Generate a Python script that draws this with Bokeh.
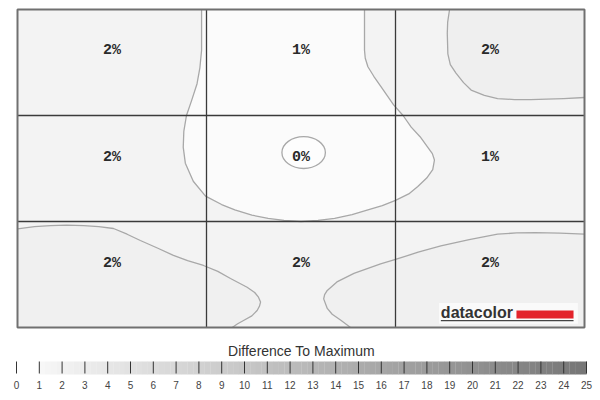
from bokeh.plotting import figure
from bokeh.models import Range1d
from bokeh.core.properties import value
from bokeh.embed import file_html
from bokeh.resources import INLINE
import numpy as np

# ---- data (cell units: x 0..3 left->right, y 0..3 top->bottom) ----
col_centers = [0.5, 1.5, 2.5]
row_label_y = [0.39, 1.40, 2.40]
cell_values = [[2, 1, 2],
               [2, 0, 1],
               [2, 2, 2]]
grid_lines = [1, 2]

# contour: U-shaped 1% boundary
u_x = [0.974, 0.974, 0.974, 0.965, 0.950, 0.921, 0.894, 0.880, 0.877, 0.888, 0.930, 0.995,
       1.080, 1.150, 1.240, 1.326, 1.410, 1.500, 1.590, 1.678, 1.770, 1.854, 1.930, 2.000,
       2.070, 2.118, 2.165, 2.197, 2.206, 2.195, 2.171, 2.130, 2.083, 2.040, 1.990, 1.924,
       1.885, 1.854, 1.840, 1.836, 1.836, 1.836]
u_y = [0.000, 0.200, 0.385, 0.550, 0.700, 0.860, 1.000, 1.150, 1.300, 1.450, 1.620, 1.760,
       1.840, 1.890, 1.940, 1.970, 1.990, 2.000, 1.990, 1.970, 1.935, 1.890, 1.850, 1.800,
       1.740, 1.670, 1.590, 1.510, 1.420, 1.360, 1.300, 1.200, 1.110, 1.000, 0.900, 0.730,
       0.630, 0.540, 0.460, 0.385, 0.160, 0.000]

# top-right 2% boundary
tr_x = [2.286, 2.276, 2.274, 2.277, 2.290, 2.320, 2.360, 2.400, 2.470, 2.540, 2.630, 2.716, 2.800, 2.890, 3.000]
tr_y = [0.000, 0.120, 0.226, 0.418, 0.520, 0.600, 0.690, 0.760, 0.810, 0.840, 0.850, 0.850, 0.845, 0.840, 0.830]

# bottom-left 2% boundary
bl_x = [0.000, 0.090, 0.175, 0.260, 0.350, 0.430, 0.508, 0.580, 0.650, 0.740, 0.825, 0.900, 0.984,
        1.060, 1.127, 1.215, 1.255, 1.275, 1.286, 1.280, 1.268, 1.240, 1.196, 1.165, 1.136]
bl_y = [2.069, 2.048, 2.038, 2.035, 2.038, 2.048, 2.066, 2.120, 2.179, 2.250, 2.320, 2.370, 2.415,
        2.470, 2.538, 2.620, 2.670, 2.714, 2.760, 2.800, 2.840, 2.890, 2.934, 2.965, 3.000]

# bottom-right 2% boundary
br_x = [1.762, 1.709, 1.665, 1.639, 1.620, 1.625, 1.639, 1.690, 1.780, 1.921, 1.996, 2.120,
        2.240, 2.390, 2.540, 2.640, 2.740, 2.870, 3.000]
br_y = [3.000, 2.930, 2.875, 2.820, 2.730, 2.690, 2.650, 2.570, 2.490, 2.400, 2.360, 2.290,
        2.230, 2.170, 2.120, 2.108, 2.105, 2.110, 2.120]

# small 0% ring
ring_x = 1.514
ring_y = 1.35
ring_w = 0.23
ring_h = 0.30

# colour bar
scale_ticks = list(range(0, 26))
scale_labels = [str(t) for t in scale_ticks]
scale_title = "Difference To Maximum"
scale_start = 1
scale_end = 25

# ---- layout (pixels on the canvas) ----
W, H = 600, 398
map_left, map_right, map_top, map_bottom = 17, 584, 9, 327
bar_left_px, bar_right_px = 16, 586   # positions of 0 and 25 on the scale

cw = (map_right - map_left) / 3.0
ch = (map_bottom - map_top) / 3.0
x_cells = Range1d(-map_left / cw, 3 + (W - map_right) / cw)
y_cells = Range1d(3 + (H - map_bottom) / ch, -map_top / ch)
su = (bar_right_px - bar_left_px) / 25.0
x_scale = Range1d(-bar_left_px / su, 25 + (W - bar_right_px) / su)
y_px = Range1d(H, 0)

p = figure(width=W, height=H, x_range=x_cells, y_range=y_cells,
           output_backend="svg", toolbar_location=None,
           x_axis_location=None, y_axis_location=None,
           min_border_left=0, min_border_right=0, min_border_top=0, min_border_bottom=0)
p.extra_x_ranges = {"scale": x_scale}
p.extra_y_ranges = {"px": y_px}
p.grid.visible = False
p.outline_line_color = None
p.background_fill_color = "white"
p.border_fill_color = "white"

# map background
p.quad(left=[0], right=[3], top=[0], bottom=[3], fill_color="#f3f3f3", line_color=None)

# shading regions
p.patch(u_x, u_y, fill_color="#fbfbfb", line_color=None)
p.patch(tr_x + [3.0], tr_y + [0.0], fill_color="#efefef", line_color=None)
p.patch(bl_x + [0.0], bl_y + [3.0], fill_color="#f0f0f0", line_color=None)
p.patch(br_x + [3.0], br_y + [3.0], fill_color="#f0f0f0", line_color=None)

# contour lines
cline = dict(line_color="#a8a8a8", line_width=1.3, line_join="round")
p.line(u_x, u_y, **cline)
p.line(tr_x, tr_y, **cline)
p.line(bl_x, bl_y, **cline)
p.line(br_x, br_y, **cline)
p.ellipse(x=[ring_x], y=[ring_y], width=[ring_w], height=[ring_h],
          fill_color="#fdfdfd", line_color="#a8a8a8", line_width=1.3)

# cell grid lines and frame
gl = dict(line_color="#3a3a3a", line_width=1.3)
p.segment(x0=grid_lines, y0=[0, 0], x1=grid_lines, y1=[3, 3], **gl)
p.segment(x0=[0, 0], y0=grid_lines, x1=[3, 3], y1=grid_lines, **gl)
p.quad(left=[0], right=[3], top=[0], bottom=[3], fill_color=None,
       line_color="#707070", line_width=2)

# cell labels
lx, ly, lt = [], [], []
for r, row in enumerate(cell_values):
    for c, v in enumerate(row):
        lx.append(col_centers[c])
        ly.append(row_label_y[r])
        lt.append(f"{v}%")
p.text(x=lx, y=ly, text=lt, text_align="center", text_baseline="middle",
       text_font=value("Liberation Mono"), text_font_style="bold",
       text_font_size="15px", text_color="#2a2a2a")

# datacolor logo
p.quad(left=[2.23], right=[2.965], top=[2.77], bottom=[2.965], fill_color="#fafafa", line_color=None)
p.text(x=[2.24], y=[2.862], text=["datacolor"], text_align="left", text_baseline="middle",
       text_font=value("Liberation Sans"), text_font_style="bold", text_font_size="16px",
       text_color="#333333")
p.quad(left=[2.64], right=[2.942], top=[2.84], bottom=[2.915], fill_color="#e3232b", line_color=None)
p.segment(x0=[2.24], y0=[2.935], x1=[2.942], y1=[2.935], line_color="#444444", line_width=1.2)

# ---- colour scale ----
n = 96
edges = np.linspace(scale_start, scale_end, n + 1)
shade = np.linspace(0xf7, 0x77, n).astype(int)
colors = ["#%02x%02x%02x" % (s, s, s) for s in shade]
sc = dict(x_range_name="scale", y_range_name="px")
p.quad(left=edges[:-1], right=edges[1:] + 0.01, top=[361] * n, bottom=[374] * n,
       fill_color=colors, line_color=None, **sc)
p.segment(x0=scale_ticks, y0=[361] * len(scale_ticks), x1=scale_ticks, y1=[373] * len(scale_ticks),
          line_color="#333333", line_width=1, **sc)
p.text(x=scale_ticks, y=[384] * len(scale_ticks), text=scale_labels, text_align="center",
       text_baseline="middle", text_font=value("Liberation Sans"), text_font_size="10px",
       text_color="#444444", **sc)
p.text(x=[12.5], y=[350], text=[scale_title], text_align="center", text_baseline="middle",
       text_font=value("Liberation Sans"), text_font_size="14px", text_color="#333333", **sc)

open("out.html", "w").write(file_html(p, INLINE))
